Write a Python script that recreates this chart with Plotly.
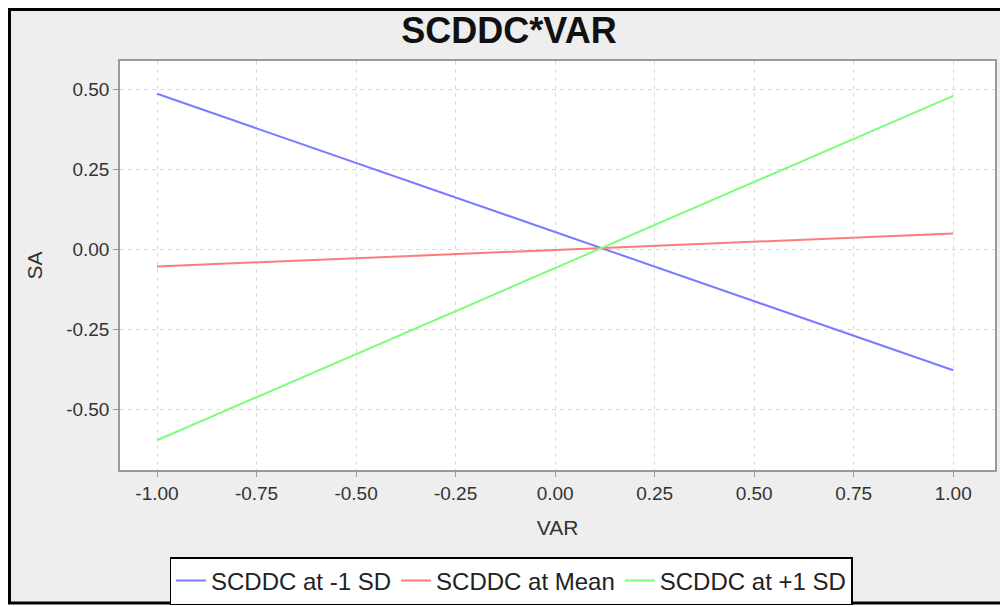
import plotly.graph_objects as go

# Data
x_vals = [-1.0, 1.0]
series_names = ["SCDDC at -1 SD", "SCDDC at Mean", "SCDDC at +1 SD"]
y_minus_sd = [0.4875, -0.378]
y_mean = [-0.053, 0.050]
y_plus_sd = [-0.597, 0.481]
colors = ["#7b7bff", "#ff7b7b", "#7bff7b"]

x_ticks = [-1.0, -0.75, -0.5, -0.25, 0.0, 0.25, 0.5, 0.75, 1.0]
x_ticklabels = ["-1.00", "-0.75", "-0.50", "-0.25", "0.00", "0.25", "0.50", "0.75", "1.00"]
y_ticks = [0.5, 0.25, 0.0, -0.25, -0.5]
y_ticklabels = ["0.50", "0.25", "0.00", "-0.25", "-0.50"]

OFF = 8  # page body margin
W, H = 1008 - OFF, 607 - OFF
# plot area in reference pixel coordinates
L, R, T, B = 120, 995, 61, 470

def px(xp):
    return (xp - L) / (R - L)

def py(yp):
    return (B - yp) / (B - T)

fig = go.Figure()
for name, ys, c in zip(series_names, [y_minus_sd, y_mean, y_plus_sd], colors):
    fig.add_trace(go.Scatter(x=x_vals, y=ys, mode="lines", name=name,
                             line=dict(color=c, width=2)))

font = "Liberation Sans, Arial, sans-serif"
axis_common = dict(
    showgrid=True, gridcolor="#dadada", griddash="4px,4px", gridwidth=1,
    showline=True, linecolor="#9a9a9a", linewidth=1.5, mirror=True,
    ticks="outside", ticklen=5, tickcolor="#9a9a9a",
    tickfont=dict(family=font, size=19, color="#333333"),
    zeroline=False,
)

fig.update_layout(
    width=W, height=H,
    margin=dict(l=L - OFF, r=W - (R - OFF), t=T - OFF, b=H - (B - OFF), autoexpand=False),
    paper_bgcolor="#eeeeee", plot_bgcolor="white",
    title=dict(text="<b>SCDDC*VAR</b>", x=(509 - OFF) / W, xref="container", xanchor="center",
               y=1 - (30 - OFF) / H, yref="container", yanchor="middle",
               font=dict(family=font, size=36, color="#111111")),
    xaxis=dict(range=[-1.093, 1.105], tickvals=x_ticks, ticktext=x_ticklabels,
               title=dict(text="VAR", font=dict(family=font, size=21, color="#333333"), standoff=18),
               **axis_common),
    yaxis=dict(range=[-0.69, 0.59], tickvals=y_ticks, ticktext=y_ticklabels,
               title=dict(text="SA", font=dict(family=font, size=21, color="#333333"), standoff=18),
               **axis_common),
    showlegend=True,
    legend=dict(orientation="h", x=px(511), xanchor="center",
                y=py(557), yanchor="top", bgcolor="white",
                bordercolor="black", borderwidth=1.5,
                font=dict(family=font, size=24, color="#222222"),
                itemwidth=30, tracegroupgap=0),
)

# outer frame of the screenshot
shapes = [
    dict(type="rect", xref="paper", yref="paper", x0=px(OFF), x1=px(1008), y0=py(607), y1=py(604),
         fillcolor="white", line=dict(width=0), layer="above"),
    dict(type="rect", xref="paper", yref="paper", x0=px(OFF + 1.5), x1=px(1005), y0=py(603), y1=py(OFF + 1.5),
         fillcolor="rgba(0,0,0,0)", line=dict(color="black", width=3), layer="above"),
]
fig.update_layout(shapes=shapes)

fig.write_html("out.html")
